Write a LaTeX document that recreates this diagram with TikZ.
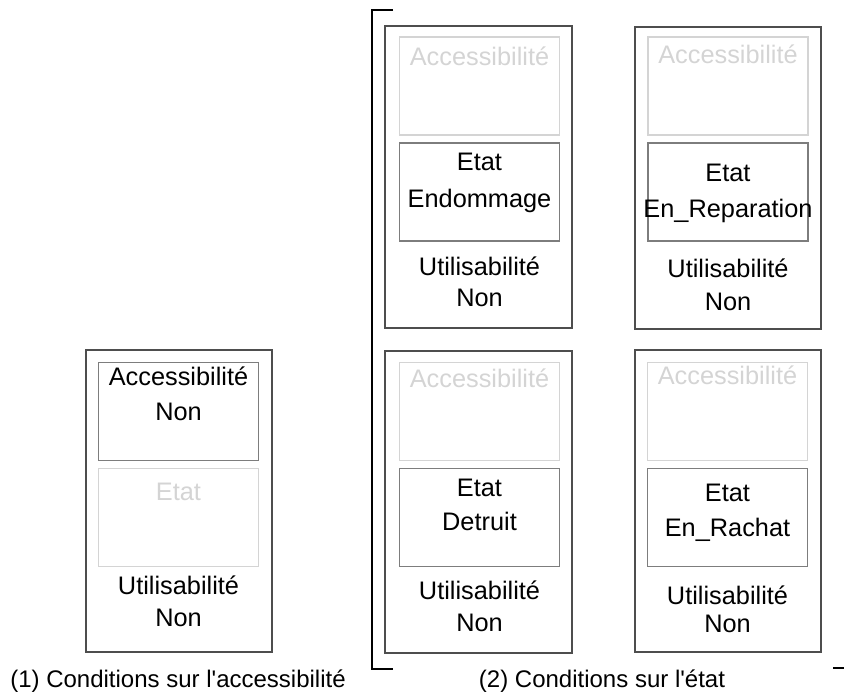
\documentclass[tikz,border=0pt]{standalone}
\usepackage{fontspec}
\setmainfont{Liberation Sans}
\usetikzlibrary{positioning}

\definecolor{cadre}{RGB}{78,78,78}
\definecolor{champ}{RGB}{125,125,125}
\definecolor{pale}{RGB}{212,212,212}

\tikzset{
  groupe/.style={draw=cadre, line width=1.5pt, minimum width=140pt, minimum height=226.5pt, inner sep=0pt},
  actif/.style={draw=champ, line width=1.2pt, minimum width=120pt, minimum height=73.5pt, inner sep=0pt},
  inactif/.style={draw=pale, line width=1.2pt, minimum width=120pt, minimum height=73.5pt, inner sep=0pt},
  texte/.style={inner sep=0pt, text height=1.5ex, text depth=.25ex, font=\fontsize{19}{23}\selectfont},
  textepale/.style={texte, text=pale},
  legende/.style={texte, font=\fontsize{18}{22}\selectfont},
}

\begin{document}
\begin{tikzpicture}[x=0.75pt,y=-0.75pt]
\useasboundingbox (0,0) rectangle (844,697);

% (1) accessibilite
\node[groupe] (acc) at (179,500.5) {};
\node[actif] (accA) at (178.5,411.5) {};
\node[inactif] (accE) at (178.5,517.5) {};
\node[texte] (accA1) at (178.5,381) {Accessibilité};
\node[texte] (accA2) at (178.5,416) {Non};
\node[textepale] (accE1) at (178.5,496) {Etat};
\node[texte] (accU1) at (178.5,590) {Utilisabilité};
\node[texte] (accU2) at (178.5,622) {Non};

% (2) etat : endommage
\node[groupe] (endo) at (478.5,177) {};
\node[inactif] (endoA) at (479.5,86) {};
\node[actif] (endoE) at (479.5,192) {};
\node[textepale] (endoA1) at (479.5,61) {Accessibilité};
\node[texte] (endoE1) at (479.5,166) {Etat};
\node[texte] (endoE2) at (479.5,203) {Endommage};
\node[texte] (endoU1) at (479.5,271) {Utilisabilité};
\node[texte] (endoU2) at (479.5,302) {Non};

% en reparation
\node[groupe] (repa) at (728,177.5) {};
\node[inactif] (repaA) at (728,86) {};
\node[actif] (repaE) at (728,192) {};
\node[textepale] (repaA1) at (728,59) {Accessibilité};
\node[texte] (repaE1) at (728,177) {Etat};
\node[texte] (repaE2) at (728,213) {En\_Reparation};
\node[texte] (repaU1) at (728,273) {Utilisabilité};
\node[texte] (repaU2) at (728,306) {Non};

% detruit
\node[groupe] (detr) at (478.5,502) {};
\node[inactif] (detrA) at (479.5,411.5) {};
\node[actif] (detrE) at (479.5,517.5) {};
\node[textepale] (detrA1) at (479.5,383) {Accessibilité};
\node[texte] (detrE1) at (479.5,492) {Etat};
\node[texte] (detrE2) at (479.5,526) {Detruit};
\node[texte] (detrU1) at (479.5,595) {Utilisabilité};
\node[texte] (detrU2) at (479.5,627) {Non};

% en rachat
\node[groupe] (rach) at (728,501) {};
\node[inactif] (rachA) at (727.5,411.5) {};
\node[actif] (rachE) at (727.5,517.5) {};
\node[textepale] (rachA1) at (727.5,380) {Accessibilité};
\node[texte] (rachE1) at (727.5,497) {Etat};
\node[texte] (rachE2) at (727.5,532) {En\_Rachat};
\node[texte] (rachU1) at (727.5,600) {Utilisabilité};
\node[texte] (rachU2) at (727.5,628) {Non};

% crochet des cas sur l'etat
\coordinate (crH) at (393,10);
\coordinate (crB) at (393,669);
\draw[line width=1.3pt] (crH) -- (372,10) -- (372,669) -- (crB);
\draw[line width=1.3pt] (833,668) -- (844,668);

% legendes
\node[legende] (leg1) at (178,683) {(1) Conditions sur l\textquotesingle accessibilité};
\node[legende] (leg2) at (602,683) {(2) Conditions sur l\textquotesingle état};
\end{tikzpicture}
\end{document}
